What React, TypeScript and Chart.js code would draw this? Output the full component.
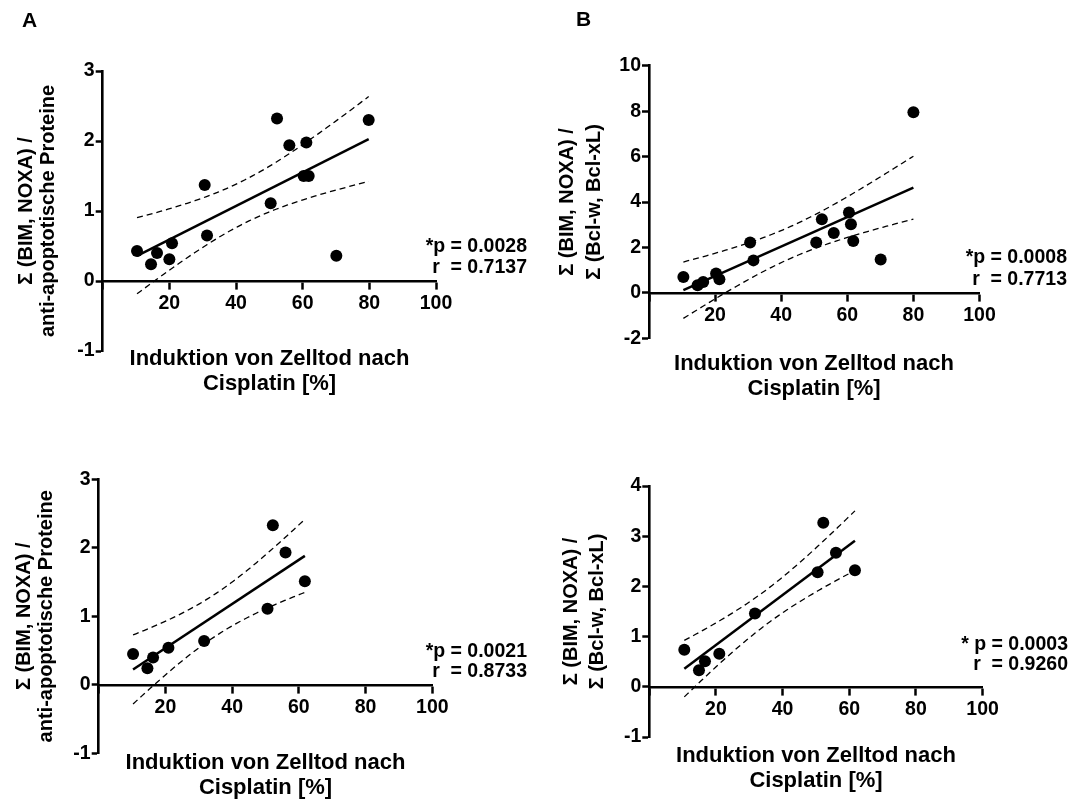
import React, { useEffect, useRef } from "react";
import { Chart, registerables } from "chart.js";

Chart.register(...registerables);

const W = 1081;
const H = 800;
const FONT = '"Liberation Sans", Arial, Helvetica, sans-serif';

// ---------- data ----------
const aTopX = [10.3, 14.5, 16.3, 20.0, 20.8, 30.6, 31.3, 50.4, 52.3, 56.0, 60.3, 61.1, 61.8, 70.1, 79.8];
const aTopY = [0.43, 0.24, 0.40, 0.31, 0.54, 1.37, 0.65, 1.11, 2.32, 1.94, 1.50, 1.98, 1.50, 0.36, 2.30];
const bTopX = [10.4, 14.7, 16.4, 20.3, 21.3, 30.6, 31.6, 50.6, 52.3, 55.9, 60.5, 61.1, 61.8, 70.1, 80.0];
const bTopY = [0.70, 0.34, 0.48, 0.85, 0.60, 2.22, 1.43, 2.22, 3.24, 2.64, 3.54, 3.02, 2.28, 1.47, 7.95];
const aBotX = [10.3, 14.6, 16.3, 20.9, 31.6, 50.6, 52.2, 56.0, 61.8];
const aBotY = [0.45, 0.24, 0.40, 0.54, 0.64, 1.11, 2.33, 1.93, 1.51];
const bBotX = [10.5, 14.9, 16.7, 21.0, 31.7, 50.5, 52.2, 56.0, 61.7];
const bBotY = [0.74, 0.33, 0.51, 0.66, 1.46, 2.28, 3.27, 2.67, 2.32];

const xTitle = ["Induktion von Zelltod nach", "Cisplatin [%]"];
const yTitleA = ["Σ (BIM, NOXA) /", "anti-apoptotische Proteine"];
const yTitleB = ["Σ (BIM, NOXA) /", "Σ (Bcl-w, Bcl-xL)"];
const aTopStats = ["*p = 0.0028", "r  = 0.7137"];
const bTopStats = ["*p = 0.0008", "r  = 0.7713"];
const aBotStats = ["*p = 0.0021", "r  = 0.8733"];
const bBotStats = ["* p = 0.0003", "r  = 0.9260"];
const panelLetters = ["A", "B"];

// two-sided 95% t critical values by degrees of freedom
const T95: Record<number, number> = {
  1: 12.706, 2: 4.303, 3: 3.182, 4: 2.776, 5: 2.571, 6: 2.447, 7: 2.365, 8: 2.306,
  9: 2.262, 10: 2.228, 11: 2.201, 12: 2.179, 13: 2.16, 14: 2.145, 15: 2.131,
  16: 2.12, 17: 2.11, 18: 2.101, 19: 2.093, 20: 2.086,
};

function regression(xs: number[], ys: number[]) {
  const n = xs.length;
  const mx = xs.reduce((a, b) => a + b, 0) / n;
  const my = ys.reduce((a, b) => a + b, 0) / n;
  let sxx = 0, sxy = 0, syy = 0;
  for (let i = 0; i < n; i++) {
    sxx += (xs[i] - mx) ** 2;
    sxy += (xs[i] - mx) * (ys[i] - my);
    syy += (ys[i] - my) ** 2;
  }
  const slope = sxy / sxx;
  const intercept = my - slope * mx;
  const s = Math.sqrt((syy - (sxy * sxy) / sxx) / (n - 2));
  const t = T95[n - 2] || 2;
  const xmin = Math.min(...xs);
  const xmax = Math.max(...xs);
  const fitLine = [xmin, xmax].map((x) => ({ x, y: intercept + slope * x }));
  const upper: { x: number; y: number }[] = [];
  const lower: { x: number; y: number }[] = [];
  const steps = 60;
  for (let k = 0; k <= steps; k++) {
    const x = xmin + ((xmax - xmin) * k) / steps;
    const yh = intercept + slope * x;
    const h = t * s * Math.sqrt(1 / n + (x - mx) ** 2 / sxx);
    upper.push({ x, y: yh + h });
    lower.push({ x, y: yh - h });
  }
  return { fitLine, upper, lower };
}

type Panel = {
  xs: number[];
  ys: number[];
  yMin: number;
  yMax: number;
  yStep: number;
  yTitle: string[];
  plot: { left: number; right: number; top: number; bottom: number };
  titleLine1: number; // x of first title line centre
  titleLH: number;
  stats: string[];
  statsRight: number;
  statsTop: number;
  statsLH: number;
  xTitleCenterX: number;
  xTitleTop: number;
};

const panels: Panel[] = [
  {
    xs: aTopX, ys: aTopY, yMin: -1, yMax: 3, yStep: 1, yTitle: yTitleA,
    plot: { left: 102.7, right: 436, top: 71, bottom: 351 },
    titleLine1: 26.7, titleLH: 21.6,
    stats: aTopStats, statsRight: 527, statsTop: 235, statsLH: 21,
    xTitleCenterX: 269.5, xTitleTop: 344.5,
  },
  {
    xs: bTopX, ys: bTopY, yMin: -2, yMax: 10, yStep: 2, yTitle: yTitleB,
    plot: { left: 649, right: 979.5, top: 65.7, bottom: 338.3 },
    titleLine1: 567, titleLH: 27,
    stats: bTopStats, statsRight: 1067, statsTop: 245, statsLH: 22,
    xTitleCenterX: 814, xTitleTop: 350,
  },
  {
    xs: aBotX, ys: aBotY, yMin: -1, yMax: 3, yStep: 1, yTitle: yTitleA,
    plot: { left: 98.7, right: 432.3, top: 479.3, bottom: 753.3 },
    titleLine1: 24, titleLH: 22.5,
    stats: aBotStats, statsRight: 527, statsTop: 640, statsLH: 20,
    xTitleCenterX: 265.5, xTitleTop: 748.5,
  },
  {
    xs: bBotX, ys: bBotY, yMin: -1, yMax: 4, yStep: 1, yTitle: yTitleB,
    plot: { left: 649.3, right: 982.6, top: 486, bottom: 737 },
    titleLine1: 571, titleLH: 26,
    stats: bBotStats, statsRight: 1068, statsTop: 633, statsLH: 20,
    xTitleCenterX: 816, xTitleTop: 741.5,
  },
];

function makeConfig(p: Panel): any {
  const { fitLine, upper, lower } = regression(p.xs, p.ys);
  const points = p.xs.map((x, i) => ({ x, y: p.ys[i] }));
  const titleLeft = p.titleLine1 - p.titleLH / 2;
  const tickFont = { family: FONT, size: 19.5, weight: "bold" as const };
  const axisCommon = {
    grid: {
      drawOnChartArea: false,
      drawTicks: true,
      tickLength: 7,
      tickWidth: 2.5,
      tickColor: "#000",
      color: "#000",
    },
    border: { display: true, color: "#000", width: 2.6 },
  };
  return {
    type: "scatter",
    data: {
      datasets: [
        {
          type: "scatter",
          data: points,
          pointRadius: 6,
          pointHoverRadius: 6,
          backgroundColor: "#000",
          borderColor: "#000",
          borderWidth: 0,
          showLine: false,
        },
        {
          type: "line",
          data: fitLine,
          borderColor: "#000",
          borderWidth: 2.5,
          pointRadius: 0,
          fill: false,
          tension: 0,
        },
        {
          type: "line",
          data: upper,
          borderColor: "#000",
          borderWidth: 1.3,
          borderDash: [6, 4],
          pointRadius: 0,
          fill: false,
          tension: 0,
        },
        {
          type: "line",
          data: lower,
          borderColor: "#000",
          borderWidth: 1.3,
          borderDash: [6, 4],
          pointRadius: 0,
          fill: false,
          tension: 0,
        },
      ],
    },
    options: {
      responsive: false,
      maintainAspectRatio: false,
      animation: false,
      events: [],
      layout: {
        padding: {
          left: titleLeft,
          top: p.plot.top,
          right: W - p.plot.right,
          bottom: H - p.plot.bottom,
        },
      },
      plugins: { legend: { display: false }, tooltip: { enabled: false } },
      scales: {
        x: {
          type: "linear",
          min: 0,
          max: 100,
          position: { y: 0 },
          ticks: {
            stepSize: 20,
            font: tickFont,
            color: "#000",
            padding: 4,
            maxRotation: 0,
            autoSkip: false,
            callback: (v: number) => (v === 0 ? "" : String(v)),
          },
          ...axisCommon,
        },
        y: {
          type: "linear",
          min: p.yMin,
          max: p.yMax,
          position: "left",
          ticks: {
            stepSize: p.yStep,
            font: tickFont,
            color: "#000",
            padding: 1,
            autoSkip: false,
          },
          title: {
            display: true,
            text: p.yTitle,
            color: "#000",
            padding: 0,
            font: { family: FONT, size: 20, weight: "bold", lineHeight: p.titleLH / 20 },
          },
          afterFit: (s: any) => {
            s.width = p.plot.left - titleLeft;
          },
          ...axisCommon,
        },
      },
    },
  };
}

function PanelChart({ panel }: { panel: Panel }) {
  const ref = useRef<HTMLCanvasElement>(null);
  useEffect(() => {
    const chart = new Chart(ref.current as HTMLCanvasElement, makeConfig(panel));
    return () => chart.destroy();
  }, [panel]);
  return (
    <canvas
      ref={ref}
      width={W}
      height={H}
      style={{ position: "absolute", left: 0, top: 0, width: W, height: H, pointerEvents: "none" }}
    />
  );
}

export default function App() {
  const letterPos = [
    { left: 22, top: 9 },
    { left: 576, top: 7.5 },
  ];
  return (
    <div
      style={{
        position: "absolute",
        left: 0,
        top: 0,
        width: W,
        height: H,
        background: "#fff",
        fontFamily: FONT,
        fontWeight: "bold",
        color: "#000",
        overflow: "hidden",
      }}
    >
      {panels.map((p, i) => (
        <PanelChart key={i} panel={p} />
      ))}
      {panelLetters.map((l, i) => (
        <div
          key={l}
          style={{ position: "absolute", left: letterPos[i].left, top: letterPos[i].top, fontSize: 21, lineHeight: "21px" }}
        >
          {l}
        </div>
      ))}
      {panels.map((p, i) => (
        <div
          key={"x" + i}
          style={{
            position: "absolute",
            left: p.xTitleCenterX - 200,
            width: 400,
            top: p.xTitleTop,
            textAlign: "center",
            fontSize: 22,
            lineHeight: "25px",
          }}
        >
          {xTitle.map((t, k) => (
            <div key={k}>{t}</div>
          ))}
        </div>
      ))}
      {panels.map((p, i) => (
        <div
          key={"s" + i}
          style={{
            position: "absolute",
            right: W - p.statsRight,
            top: p.statsTop,
            textAlign: "right",
            fontSize: 19.5,
            lineHeight: p.statsLH + "px",
            whiteSpace: "pre",
          }}
        >
          {p.stats.map((t, k) => (
            <div key={k}>{t}</div>
          ))}
        </div>
      ))}
    </div>
  );
}
